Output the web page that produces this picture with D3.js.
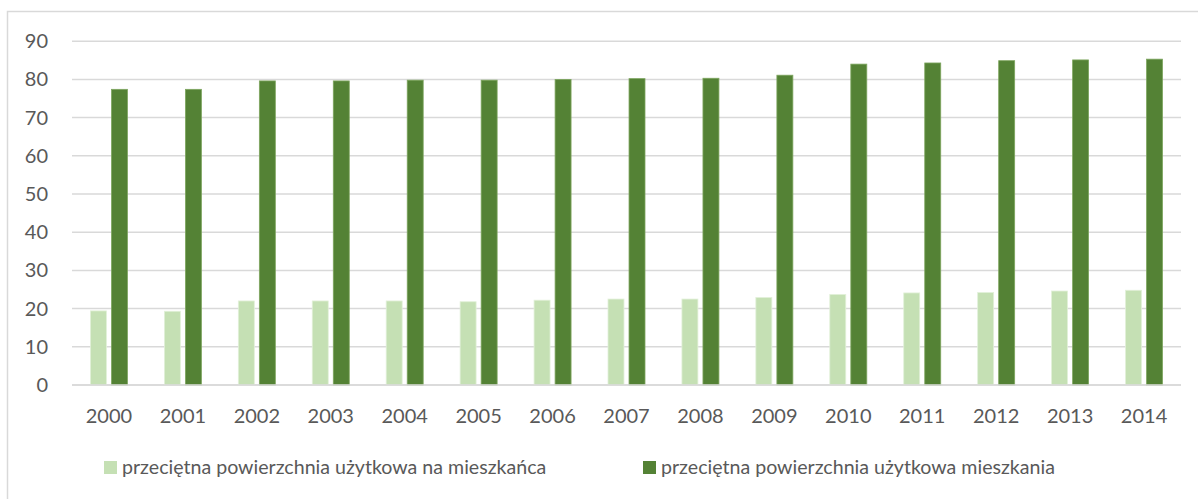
<!DOCTYPE html>
<html>
<head>
<meta charset="utf-8">
<script src="https://cdn.jsdelivr.net/npm/d3@7"></script>
<style>
  body { margin: 0; background: #fff; }
  text { font-family: Lato, "Open Sans", sans-serif; fill: #595959; }
</style>
</head>
<body>
<div id="chart"></div>
<script>
const years = ['2000', '2001', '2002', '2003', '2004', '2005', '2006', '2007',
  '2008', '2009', '2010', '2011', '2012', '2013', '2014'];
const perPerson = [19.4, 19.3, 22.0, 22.0, 22.0, 21.8, 22.2, 22.5, 22.5, 22.9, 23.7, 24.1, 24.2, 24.6, 24.8];
const perDwelling = [77.4, 77.4, 79.6, 79.6, 79.8, 79.8, 80.0, 80.2, 80.3, 81.1, 84.0, 84.3, 84.9, 85.1, 85.3];
const seriesNames = ['przeciętna powierzchnia użytkowa na mieszkańca', 'przeciętna powierzchnia użytkowa mieszkania'];
const yTicks = [0, 10, 20, 30, 40, 50, 60, 70, 80, 90];

const colors = ['#c5e0b4', '#548235'];
let svgDimensions = [1198, 499];

let svg = d3.select('#chart')
  .append('svg')
    .attr('width', svgDimensions[0])
    .attr('height', svgDimensions[1]);

// chart frame (left + top edge visible)
svg.append('path')
  .attr('d', `M7.5,${svgDimensions[1]} V11.5 H${svgDimensions[0]}`)
  .attr('fill', 'none')
  .attr('stroke', '#d9d9d9')
  .attr('stroke-width', 1.5);

let x0 = d3.scaleBand()
  .domain(years)
  .range([72, 1181]);

let bw = x0.bandwidth();
let x1 = d3.scaleBand()
  .domain([0, 1])
  .range([bw / 2 - 18.5, bw / 2 + 18.5])
  .paddingInner(0.24);

let y = d3.scaleLinear()
  .domain([0, 90])
  .range([385, 41.2]);

// gridlines
svg.append('g')
  .selectAll('line')
  .data(yTicks)
  .enter()
  .append('line')
    .attr('x1', 72)
    .attr('x2', 1181)
    .attr('y1', d => y(d))
    .attr('y2', d => y(d))
    .attr('stroke', '#d9d9d9')
    .attr('stroke-width', 1.5);

// y labels
svg.append('g')
  .selectAll('text')
  .data(yTicks)
  .enter()
  .append('text')
    .attr('x', 48)
    .attr('y', d => y(d))
    .attr('dy', '0.35em')
    .attr('text-anchor', 'end')
    .style('font-size', '20px')
    .text(d => d);

// bars
let rows = years.map((yr, i) => ({ year: yr, vals: [perPerson[i], perDwelling[i]] }));

let groups = svg.append('g')
  .selectAll('g')
  .data(rows)
  .enter()
  .append('g')
    .attr('transform', d => `translate(${x0(d.year)},0)`);

groups.selectAll('rect')
  .data(d => d.vals)
  .enter()
  .append('rect')
    .attr('x', (d, i) => x1(i))
    .attr('width', x1.bandwidth())
    .attr('y', d => y(d))
    .attr('height', d => y(0) - y(d))
    .attr('fill', (d, i) => colors[i])
    .attr('stroke', (d, i) => i === 0 ? '#e2f0d9' : '#7ea65f')
    .attr('stroke-width', 0.8);

// baseline
svg.append('line')
  .attr('x1', 72)
  .attr('x2', 1181)
  .attr('y1', y(0))
  .attr('y2', y(0))
  .attr('stroke', '#d9d9d9')
  .attr('stroke-width', 1.5);

// x labels
svg.append('g')
  .selectAll('text')
  .data(years)
  .enter()
  .append('text')
    .attr('x', d => x0(d) + bw / 2)
    .attr('y', 423)
    .attr('text-anchor', 'middle')
    .style('font-size', '20px')
    .text(d => d);

// legend
const legendX = [104, 643];
let legend = svg.append('g')
  .selectAll('g')
  .data(seriesNames)
  .enter()
  .append('g')
    .attr('transform', (d, i) => `translate(${legendX[i]},461)`);

legend.append('rect')
  .attr('width', 13)
  .attr('height', 13)
  .attr('fill', (d, i) => colors[i]);

legend.append('text')
  .attr('x', 18)
  .attr('y', 13)
  .style('font-size', '19.6px')
  .text(d => d);
</script>
</body>
</html>
